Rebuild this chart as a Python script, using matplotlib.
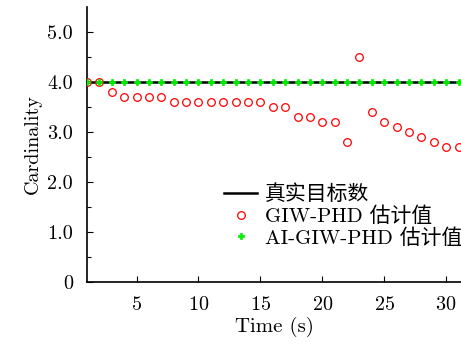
import matplotlib
matplotlib.use("Agg")
import matplotlib.pyplot as plt
from matplotlib.ticker import FixedLocator

plt.rcParams['font.family'] = ['cmr10', 'Noto Sans CJK SC', 'DejaVu Sans']
plt.rcParams['mathtext.fontset'] = 'cm'
plt.rcParams['axes.formatter.use_mathtext'] = True
plt.rcParams['axes.unicode_minus'] = False

time = list(range(1, 32))
true_count = [4.0] * 31
giw_phd = [4.0, 4.0, 3.8, 3.7, 3.7, 3.7, 3.7, 3.6, 3.6, 3.6, 3.6, 3.6, 3.6, 3.6, 3.6,
           3.5, 3.5, 3.3, 3.3, 3.2, 3.2, 2.8, 4.5, 3.4, 3.2, 3.1, 3.0, 2.9, 2.8, 2.7, 2.7]
ai_giw_phd = [4.0] * 31
yticks = [0, 1.0, 2.0, 3.0, 4.0, 5.0]
ytick_labels = ['0', '1.0', '2.0', '3.0', '4.0', '5.0']
xticks = [5, 10, 15, 20, 25, 30]
labels = ['真实目标数', 'GIW-PHD 估计值', 'AI-GIW-PHD 估计值']

fig = plt.figure(figsize=(4.61, 3.47), dpi=100)
ax = fig.add_axes([87/461, 65/347, 374/461, 275/347])

ax.plot(time, true_count, color='black', lw=1.8, label=labels[0], zorder=2)
ax.plot(time, giw_phd, linestyle='none', marker='o', mfc='none', mec='red', ms=5.5, mew=0.9,
        label=labels[1], zorder=3)
ax.plot(time, ai_giw_phd, linestyle='none', marker='P', color='#00ee00', mec='#00ee00', ms=5,
        mew=0.5, label=labels[2], zorder=4)

ax.set_xlim(1, 31.2)
ax.set_ylim(0, 5.5)
ax.set_yticks(yticks)
ax.set_yticklabels(ytick_labels)
ax.yaxis.set_minor_locator(FixedLocator([0.5, 1.5, 2.5, 3.5, 4.5]))
ax.set_xticks(xticks)
ax.tick_params(direction='in', labelsize=14.5, length=4, width=0.8, pad=10)
ax.tick_params(which='minor', direction='in', length=3, width=0.8)
for s in ['top', 'right']:
    ax.spines[s].set_visible(False)
for s in ['left', 'bottom']:
    ax.spines[s].set_linewidth(1.2)

ax.set_xlabel('Time (s)', fontsize=15, labelpad=2)
ax.set_ylabel('Cardinality', fontsize=14.5, labelpad=4)

leg = ax.legend(loc='lower right', bbox_to_anchor=(1.025, 0.095), frameon=False, fontsize=15,
                handlelength=1.6, handletextpad=0.35, labelspacing=0.1, borderaxespad=0)
for t in leg.get_texts():
    t.set_fontfamily(['cmr10', 'Noto Sans CJK SC'])

fig.savefig('out.png', dpi=100)
